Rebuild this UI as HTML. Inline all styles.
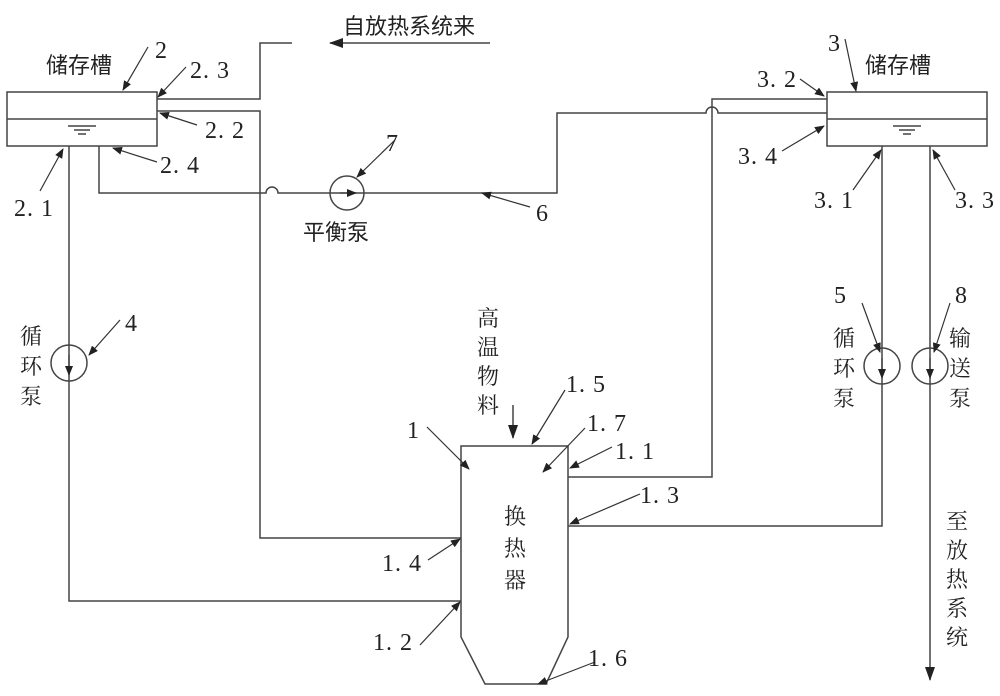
<!DOCTYPE html>
<html><head><meta charset="utf-8"><style>
body{margin:0;background:#fff}
svg text{font-family:"Liberation Serif","Noto Serif CJK SC",serif;fill:#222}
.c{font-family:"Liberation Sans","Noto Sans CJK SC",sans-serif;font-size:22px}
.n{font-size:24px;letter-spacing:1px}
</style></head><body>
<svg width="1000" height="691" viewBox="0 0 1000 691" xmlns="http://www.w3.org/2000/svg">
<defs><marker id="a" markerWidth="10" markerHeight="8" refX="9" refY="4" orient="auto" markerUnits="userSpaceOnUse"><path d="M0,0L10,4L0,8Z" fill="#222"/></marker>
<marker id="b" markerWidth="14" markerHeight="10" refX="13" refY="5" orient="auto" markerUnits="userSpaceOnUse"><path d="M0,0L14,5L0,10Z" fill="#222"/></marker></defs>
<g fill="none" stroke="#444" stroke-width="1.5">
<rect x="7" y="92" width="150" height="54"/><line x1="7" y1="119" x2="157" y2="119"/>
<line x1="68" y1="126" x2="96" y2="126"/><line x1="74" y1="130" x2="90" y2="130"/><line x1="78" y1="134" x2="86" y2="134"/>
<rect x="827" y="92" width="160" height="54"/><line x1="827" y1="119" x2="987" y2="119"/>
<line x1="893" y1="126" x2="921" y2="126"/><line x1="899" y1="130" x2="915" y2="130"/><line x1="903" y1="134" x2="911" y2="134"/>
<path d="M461,446H568V637L546,684H485L461,637Z"/>
<path d="M157,99H260V43H292"/>
<path d="M157,111H260V538H461"/>
<path d="M99,146V193H266A6,6 0 0 1 278,193H557V113H706A6,6 0 0 1 718,113H827"/>
<path d="M827,99H712V477H568"/>
<path d="M69,146V601H461"/>
<path d="M882,146V526H568"/>
<path d="M930,146V680" marker-end="url(#b)"/>
<path d="M490,43H330" marker-end="url(#b)"/>
<path d="M513,405V438" marker-end="url(#b)"/>
<circle cx="69" cy="363" r="18"/><circle cx="347" cy="193" r="17"/>
<circle cx="882" cy="366" r="18"/><circle cx="930" cy="366" r="18"/>
</g>
<g stroke="#333" stroke-width="1.2" fill="none">
<line x1="69" y1="355" x2="69" y2="375" marker-end="url(#a)"/>
<line x1="340" y1="193" x2="356" y2="193" marker-end="url(#a)"/>
<line x1="882" y1="358" x2="882" y2="378" marker-end="url(#a)"/>
<line x1="930" y1="358" x2="930" y2="378" marker-end="url(#a)"/>
<line x1="148" y1="47" x2="123" y2="90" marker-end="url(#a)"/>
<line x1="186" y1="67" x2="158" y2="97" marker-end="url(#a)"/>
<line x1="197" y1="125" x2="160" y2="113" marker-end="url(#a)"/>
<line x1="157" y1="162" x2="113" y2="148" marker-end="url(#a)"/>
<line x1="40" y1="191" x2="63" y2="149" marker-end="url(#a)"/>
<line x1="395" y1="140" x2="357" y2="177" marker-end="url(#a)"/>
<line x1="530" y1="207" x2="482" y2="193" marker-end="url(#a)"/>
<line x1="120" y1="320" x2="89" y2="355" marker-end="url(#a)"/>
<line x1="800" y1="79" x2="824" y2="96" marker-end="url(#a)"/>
<line x1="845" y1="39" x2="856" y2="91" marker-end="url(#a)"/>
<line x1="782" y1="151" x2="824" y2="126" marker-end="url(#a)"/>
<line x1="853" y1="190" x2="881" y2="150" marker-end="url(#a)"/>
<line x1="955" y1="190" x2="933" y2="150" marker-end="url(#a)"/>
<line x1="862" y1="303" x2="880" y2="352" marker-end="url(#a)"/>
<line x1="950" y1="303" x2="934" y2="352" marker-end="url(#a)"/>
<line x1="427" y1="427" x2="469" y2="469" marker-end="url(#a)"/>
<line x1="565" y1="390" x2="532" y2="444" marker-end="url(#a)"/>
<line x1="585" y1="428" x2="543" y2="472" marker-end="url(#a)"/>
<line x1="612" y1="447" x2="570" y2="468" marker-end="url(#a)"/>
<line x1="640" y1="494" x2="570" y2="524" marker-end="url(#a)"/>
<line x1="428" y1="560" x2="460" y2="539" marker-end="url(#a)"/>
<line x1="420" y1="645" x2="460" y2="602" marker-end="url(#a)"/>
<line x1="595" y1="662" x2="538" y2="684" marker-end="url(#a)"/>
</g>
<text class="c" x="343" y="34">自放热系统来</text>
<text class="c" x="46" y="73">储存槽</text>
<text class="c" x="865" y="73">储存槽</text>
<text class="c" x="303" y="240">平衡泵</text>
<g class="c">
<text x="20" y="344">循</text><text x="20" y="374">环</text><text x="20" y="404">泵</text>
<text x="833" y="346">循</text><text x="833" y="376">环</text><text x="833" y="406">泵</text>
<text x="949" y="346">输</text><text x="949" y="376">送</text><text x="949" y="406">泵</text>
<text x="477" y="326">高</text><text x="477" y="355">温</text><text x="477" y="384">物</text><text x="477" y="413">料</text>
<text x="504" y="524">换</text><text x="504" y="556">热</text><text x="504" y="588">器</text>
<text x="946" y="529">至</text><text x="946" y="558">放</text><text x="946" y="587">热</text><text x="946" y="616">系</text><text x="946" y="645">统</text>
</g>
<g class="n">
<text x="155" y="58">2</text><text x="190" y="78">2. 3</text><text x="205" y="138">2. 2</text><text x="160" y="173">2. 4</text><text x="14" y="216">2. 1</text>
<text x="386" y="151">7</text><text x="536" y="221">6</text><text x="125" y="331">4</text>
<text x="828" y="51">3</text><text x="757" y="87">3. 2</text><text x="738" y="164">3. 4</text><text x="814" y="208">3. 1</text><text x="955" y="208">3. 3</text>
<text x="834" y="303">5</text><text x="955" y="303">8</text>
<text x="407" y="438">1</text><text x="566" y="392">1. 5</text><text x="587" y="431">1. 7</text><text x="615" y="459">1. 1</text><text x="640" y="503">1. 3</text>
<text x="382" y="571">1. 4</text><text x="373" y="650">1. 2</text><text x="588" y="666">1. 6</text>
</g>
</svg>
</body></html>
